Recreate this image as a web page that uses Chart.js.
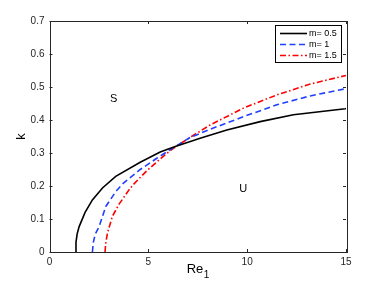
<!DOCTYPE html>
<html><head><meta charset="utf-8">
<script src="https://cdn.jsdelivr.net/npm/chart.js@4"></script>
<style>html,body{margin:0;padding:0;background:#fff}#c{display:block}</style>
</head><body>
<canvas id="c" width="382" height="287"></canvas>
<script>
const seriesLabels = ["m= 0.5", "m= 1", "m= 1.5"];
const re05 = [1.30, 1.34, 1.40, 1.50, 1.80, 2.17, 2.68, 3.35, 4.59, 5.60, 6.36, 7.62, 8.97, 10.66, 12.34, 14.96, 15];
const k05  = [0.000, 0.030, 0.055, 0.077, 0.120, 0.158, 0.194, 0.229, 0.272, 0.303, 0.320, 0.345, 0.370, 0.395, 0.416, 0.434, 0.435];
const re10 = [2.17, 2.22, 2.32, 2.51, 2.85, 3.35, 3.74, 4.59, 5.43, 6.10, 7.11, 8.13, 9.81, 11.5, 13.19, 15];
const k10  = [0.000, 0.030, 0.055, 0.077, 0.138, 0.183, 0.209, 0.250, 0.284, 0.310, 0.347, 0.372, 0.410, 0.446, 0.473, 0.495];
const re15 = [2.81, 2.84, 2.93, 3.18, 3.52, 4.03, 4.25, 4.92, 5.60, 6.10, 6.61, 7.37, 8.13, 9.81, 11.5, 13.19, 15];
const k15  = [0.000, 0.025, 0.057, 0.108, 0.145, 0.189, 0.205, 0.246, 0.282, 0.307, 0.328, 0.357, 0.385, 0.436, 0.476, 0.509, 0.535];
const xTicks = [0, 5, 10, 15];
const yTicks = [0, 0.1, 0.2, 0.3, 0.4, 0.5, 0.6, 0.7];
const xTitle = {main: "Re", sub: "1"};
const regionLabels = [{text: "S", x: 3.25, y: 0.465}, {text: "U", x: 9.8, y: 0.19}];

const pts = (xs, ys) => xs.map((x, i) => ({x, y: ys[i]}));
const FONT = "'Liberation Sans', Arial, sans-serif";

const frameTicks = {
  id: 'frameTicks',
  afterDatasetsDraw(chart) {
    const {ctx, chartArea: a, scales: {x, y}} = chart;
    ctx.save();
    ctx.strokeStyle = '#262626';
    ctx.lineWidth = 1;
    ctx.strokeRect(Math.round(a.left) + 0.5, Math.round(a.top) + 0.5, Math.round(a.right - a.left), Math.round(a.bottom - a.top));
    ctx.beginPath();
    const L = 3;
    xTicks.forEach(v => {
      const px = Math.round(x.getPixelForValue(v)) + 0.5;
      ctx.moveTo(px, a.bottom); ctx.lineTo(px, a.bottom - L);
      ctx.moveTo(px, a.top); ctx.lineTo(px, a.top + L);
    });
    yTicks.forEach(v => {
      const py = Math.round(y.getPixelForValue(v)) + 0.5;
      ctx.moveTo(a.left, py); ctx.lineTo(a.left + L, py);
      ctx.moveTo(a.right, py); ctx.lineTo(a.right - L, py);
    });
    ctx.stroke();
    // region labels
    ctx.fillStyle = '#000';
    ctx.font = '11px ' + FONT;
    ctx.textAlign = 'center';
    ctx.textBaseline = 'middle';
    regionLabels.forEach(r => ctx.fillText(r.text, x.getPixelForValue(r.x), y.getPixelForValue(r.y)));
    // x axis title with subscript
    ctx.textAlign = 'left';
    ctx.textBaseline = 'alphabetic';
    ctx.font = '13px ' + FONT;
    const wMain = ctx.measureText(xTitle.main).width;
    ctx.font = '10px ' + FONT;
    const wSub = ctx.measureText(xTitle.sub).width;
    const cx = (a.left + a.right) / 2;
    const x0 = cx - (wMain + wSub) / 2;
    ctx.font = '13px ' + FONT;
    ctx.fillText(xTitle.main, x0, 273);
    ctx.font = '10px ' + FONT;
    ctx.fillText(xTitle.sub, x0 + wMain + 0.5, 278);
    // legend
    const bx = 275.5, by = 25.5, bw = 66, bh = 37;
    ctx.fillStyle = '#fff';
    ctx.fillRect(bx, by, bw, bh);
    ctx.strokeStyle = '#000';
    ctx.lineWidth = 1;
    ctx.strokeRect(bx, by, bw, bh);
    ctx.font = '9px ' + FONT;
    ctx.textAlign = 'left';
    ctx.textBaseline = 'middle';
    chart.data.datasets.forEach((ds, i) => {
      const ly = 33.5 + i * 11;
      ctx.save();
      ctx.strokeStyle = ds.borderColor;
      ctx.lineWidth = ds.borderWidth;
      ctx.setLineDash(ds.borderDash || []);
      ctx.beginPath(); ctx.moveTo(280, ly); ctx.lineTo(307, ly); ctx.stroke();
      ctx.restore();
      ctx.fillStyle = '#000';
      ctx.fillText(ds.label, 309, ly + 0.5);
    });
    ctx.restore();
  }
};

new Chart(document.getElementById('c'), {
  type: 'scatter',
  data: {
    datasets: [
      {label: seriesLabels[0], data: pts(re05, k05), borderColor: '#000000', borderWidth: 1.6, showLine: true, pointRadius: 0, tension: 0},
      {label: seriesLabels[1], data: pts(re10, k10), borderColor: '#2040ff', borderWidth: 1.6, borderDash: [6, 3.5], showLine: true, pointRadius: 0, tension: 0},
      {label: seriesLabels[2], data: pts(re15, k15), borderColor: '#ff0000', borderWidth: 1.6, borderDash: [6, 2.5, 1.5, 2.5], showLine: true, pointRadius: 0, tension: 0}
    ]
  },
  options: {
    responsive: false,
    animation: false,
    events: [],
    layout: {padding: {left: 14, top: 21, right: 36, bottom: 0}},
    plugins: {legend: {display: false}, tooltip: {enabled: false}},
    scales: {
      x: {
        type: 'linear', min: 0, max: 15,
        afterBuildTicks: s => { s.ticks = xTicks.map(v => ({value: v})); },
        afterFit: s => { s.height = 35; },
        grid: {display: false, drawTicks: false},
        border: {display: false},
        ticks: {color: '#262626', font: {size: 10, family: FONT}, padding: 4, maxRotation: 0},
        title: {display: false}
      },
      y: {
        type: 'linear', min: 0, max: 0.7,
        afterBuildTicks: s => { s.ticks = yTicks.map(v => ({value: v})); },
        afterFit: s => { s.width = 35.5; },
        grid: {display: false, drawTicks: false},
        border: {display: false},
        ticks: {color: '#262626', font: {size: 10, family: FONT}, padding: 5, callback: v => String(Math.round(v * 10) / 10)},
        title: {display: true, text: 'k', color: '#000', font: {size: 13, family: FONT}, padding: {top: 0, bottom: 0}}
      }
    }
  },
  plugins: [frameTicks]
});
</script>
</body></html>
